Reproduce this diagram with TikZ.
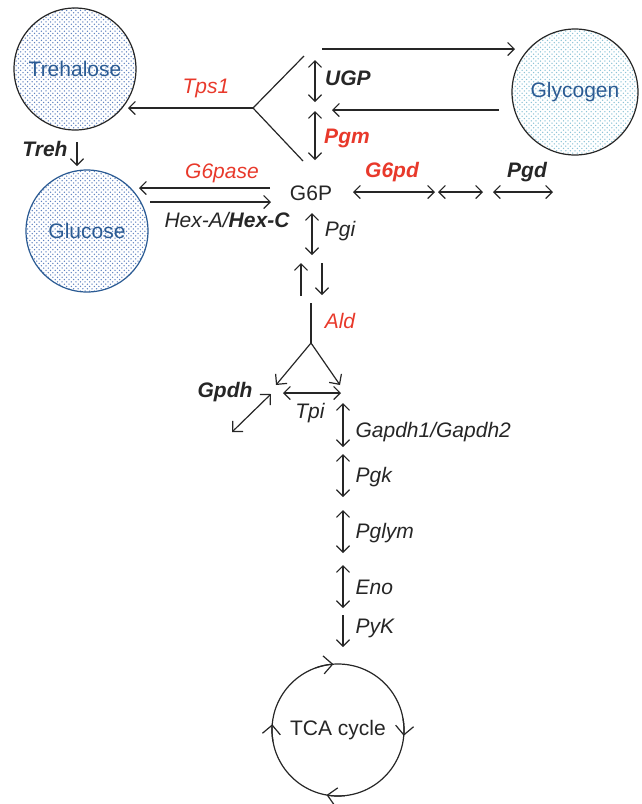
\documentclass[tikz,border=0pt]{standalone}
\usepackage{fontspec}
\setmainfont{Liberation Sans}
\usetikzlibrary{arrows.meta,patterns}
\definecolor{enzred}{HTML}{E8392B}
\definecolor{poolblue}{HTML}{2B5B93}
\definecolor{dotblue}{HTML}{5F82C0}
\definecolor{dotcyan}{HTML}{8CC3D6}
\newcommand{\KO}[1]{\textcolor{enzred}{#1}}
\newcommand{\BI}[1]{\textbf{\textit{#1}}}
\pgfdeclarepatternformonly{pooldots}{\pgfqpoint{-1pt}{-1pt}}{\pgfqpoint{6pt}{6pt}}{\pgfqpoint{4.6pt}{4.6pt}}{
  \pgfpathcircle{\pgfqpoint{0pt}{0pt}}{0.75pt}
  \pgfpathcircle{\pgfqpoint{2.3pt}{2.3pt}}{0.75pt}
  \pgfusepath{fill}}

\begin{document}
\begin{tikzpicture}[x=1pt, y=-1pt, line width=1.2pt, color=black!85,
  >={Straight Barb[length=6.5pt,width=13pt]},
  every node/.style={font=\fontsize{21}{25}\selectfont},
  enz/.style={font=\fontsize{21}{25}\selectfont\itshape, inner sep=1pt},
  pool/.style={circle, draw, minimum size=122pt, pattern=pooldots,
    pattern color=dotblue, text=poolblue},
  bigtip/.style={-{Straight Barb[length=9pt,width=18pt]}},
  slanttip/.style={{Straight Barb[length=7.5pt,width=15pt]}-{Straight Barb[length=7.5pt,width=15pt]}}]

  \useasboundingbox (0,0) rectangle (641,804);

  % pools
  \node[pool] (treh) at (75,69) {Trehalose};
  \node[pool, draw=poolblue] (gluc) at (87,231) {Glucose};
  \node[pool, minimum size=126pt, pattern color=dotcyan] (glyc) at (575,92) {Glycogen};
  \node (g6p) at (311,193) {G6P};
  \node[circle, draw, minimum size=132pt] (tca) at (338,730) {TCA cycle};

  % turning arrows on the cycle
  \foreach \sa/\ea in {250/266, -10/5, 84/100, 170/185}
    \draw[bigtip] ([shift={(\sa:66)}]tca.center) arc[start angle=\sa, end angle=\ea, radius=66];

  % end points
  \coordinate (fork) at (253,108);
  \coordinate (forkU) at (304,56);
  \coordinate (forkD) at (303,161);
  \coordinate (trehIn) at (128,108);
  \coordinate (glycA) at (322,49);
  \coordinate (glycB) at (515,49);
  \coordinate (glycC) at (499,110);
  \coordinate (glycD) at (332,110);
  \coordinate (trehA) at (77,142);
  \coordinate (trehB) at (77,166);
  \coordinate (g6pR) at (270,188);
  \coordinate (g6pL) at (139,188);
  \coordinate (hexL) at (150,202);
  \coordinate (hexR) at (271,202);
  \coordinate (upA) at (301,296);
  \coordinate (upB) at (301,263);
  \coordinate (dnA) at (322,263);
  \coordinate (dnB) at (322,295);
  \coordinate (aldA) at (311,303);
  \coordinate (aldB) at (311,343);
  \coordinate (triL) at (276,385);
  \coordinate (triR) at (340,385);
  \coordinate (tpiL) at (283,393);
  \coordinate (tpiR) at (341,393);
  \coordinate (gpdhA) at (271,394);
  \coordinate (gpdhB) at (232,432);
  \coordinate (pykA) at (343,615);
  \coordinate (pykB) at (343,647);

  \foreach \nm/\xx/\ya/\yb in {ugp/315/60/102, pgm/315/111/160, pgi/312/213/255,
      gapdh/343/403/447, pgk/343/454/497, pglym/343/510/553, eno/343/565/608}{
    \coordinate (\nm A) at (\xx,\ya);
    \coordinate (\nm B) at (\xx,\yb);
    \draw[<->] (\nm A) -- (\nm B);
  }
  \foreach \nm/\xa/\xb in {ppa/353/435, ppb/438/483, ppc/493/553}{
    \coordinate (\nm A) at (\xa,192);
    \coordinate (\nm B) at (\xb,192);
    \draw[<->] (\nm A) -- (\nm B);
  }

  \draw (forkU) -- (fork) -- (forkD);
  \draw[->] (fork) -- (trehIn);
  \draw[->] (glycA) -- (glycB);
  \draw[->] (glycC) -- (glycD);
  \draw[->] (trehA) -- (trehB);
  \draw[->] (g6pR) -- (g6pL);
  \draw[->] (hexL) -- (hexR);
  \draw[->] (upA) -- (upB);
  \draw[->] (dnA) -- (dnB);
  \draw (aldA) -- (aldB);
  \draw[-{Straight Barb[length=7.5pt,width=15pt]}] (aldB) -- (triL);
  \draw[-{Straight Barb[length=7.5pt,width=15pt]}] (aldB) -- (triR);
  \draw[<->] (tpiL) -- (tpiR);
  \draw[slanttip] (gpdhA) -- (gpdhB);
  \draw[->] (pykA) -- (pykB);

  % enzymes
  \node[enz] (tps1) at (206,88) {\KO{Tps1}};
  \node[enz] (ugp) at (348,78) {\BI{UGP}};
  \node[enz] (pgm) at (347,138) {\KO{\BI{Pgm}}};
  \node[enz] (g6pd) at (392,172) {\KO{\BI{G6pd}}};
  \node[enz] (pgd) at (527,172) {\BI{Pgd}};
  \node[enz] (g6pase) at (222,173) {\KO{G6pase}};
  \node[enz] (hex) at (227,220) {Hex-A/\textbf{Hex-C}};
  \node[enz] (trehase) at (45,149) {\BI{Treh}};
  \node[enz] (pgi) at (340,231) {Pgi};
  \node[enz] (ald) at (340,321) {\KO{Ald}};
  \node[enz] (gpdh) at (225,392) {\BI{Gpdh}};
  \node[enz] (tpi) at (310,413) {Tpi};
  \node[enz, anchor=west] (gapdh) at (354,432) {Gapdh1/Gapdh2};
  \node[enz, anchor=west] (pgk) at (354,477) {Pgk};
  \node[enz, anchor=west] (pglym) at (354,533) {Pglym};
  \node[enz, anchor=west] (eno) at (354,587) {Eno};
  \node[enz, anchor=west] (pyk) at (354,628) {PyK};

\end{tikzpicture}
\end{document}
